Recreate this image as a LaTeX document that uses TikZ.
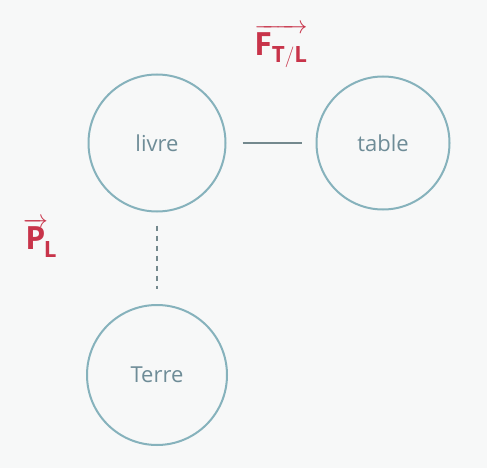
\documentclass[tikz,border=0pt]{standalone}
\usepackage{fontspec}
\setmainfont{Open Sans}
\setsansfont{Open Sans}
\definecolor{bg}{HTML}{F7F8F8}
\definecolor{ring}{HTML}{86B2BC}
\definecolor{txt}{HTML}{6E8C97}
\definecolor{lnk}{HTML}{74898E}
\definecolor{hand}{HTML}{C8344A}
\begin{document}
\begin{tikzpicture}[x=1pt,y=-1pt,
  body/.style={circle,draw=ring,line width=2pt,text=txt,font=\fontsize{22}{26}\selectfont,inner sep=0pt},
  link/.style={draw=lnk,line width=2pt},
  handlbl/.style={text=hand,font=\bfseries\fontsize{32}{34}\selectfont,inner sep=0pt}]
\fill[bg] (0,0) rectangle (487,468);
\useasboundingbox (0,0) rectangle (487,468);
\node[body,minimum size=137pt] (livre) at (157,143) {livre};
\node[body,minimum size=133pt] (table) at (383,143) {table};
\node[body,minimum size=140pt] (terre) at (157,375) {Terre};
\draw[link,shorten <=16pt,shorten >=14pt] (livre) -- (table);
\draw[link,dash pattern=on 5pt off 5pt,line width=2.6pt,shorten <=13pt,shorten >=15pt] (livre) -- (terre);
\node[handlbl] (ftl) at (281,46) {$\overrightarrow{\mathbf{F}_{\mathbf{T/L}}}$};
\node[handlbl] (pl) at (40,238) {$\overrightarrow{\mathbf{P}}\!_{\mathbf{L}}$};
\end{tikzpicture}
\end{document}
